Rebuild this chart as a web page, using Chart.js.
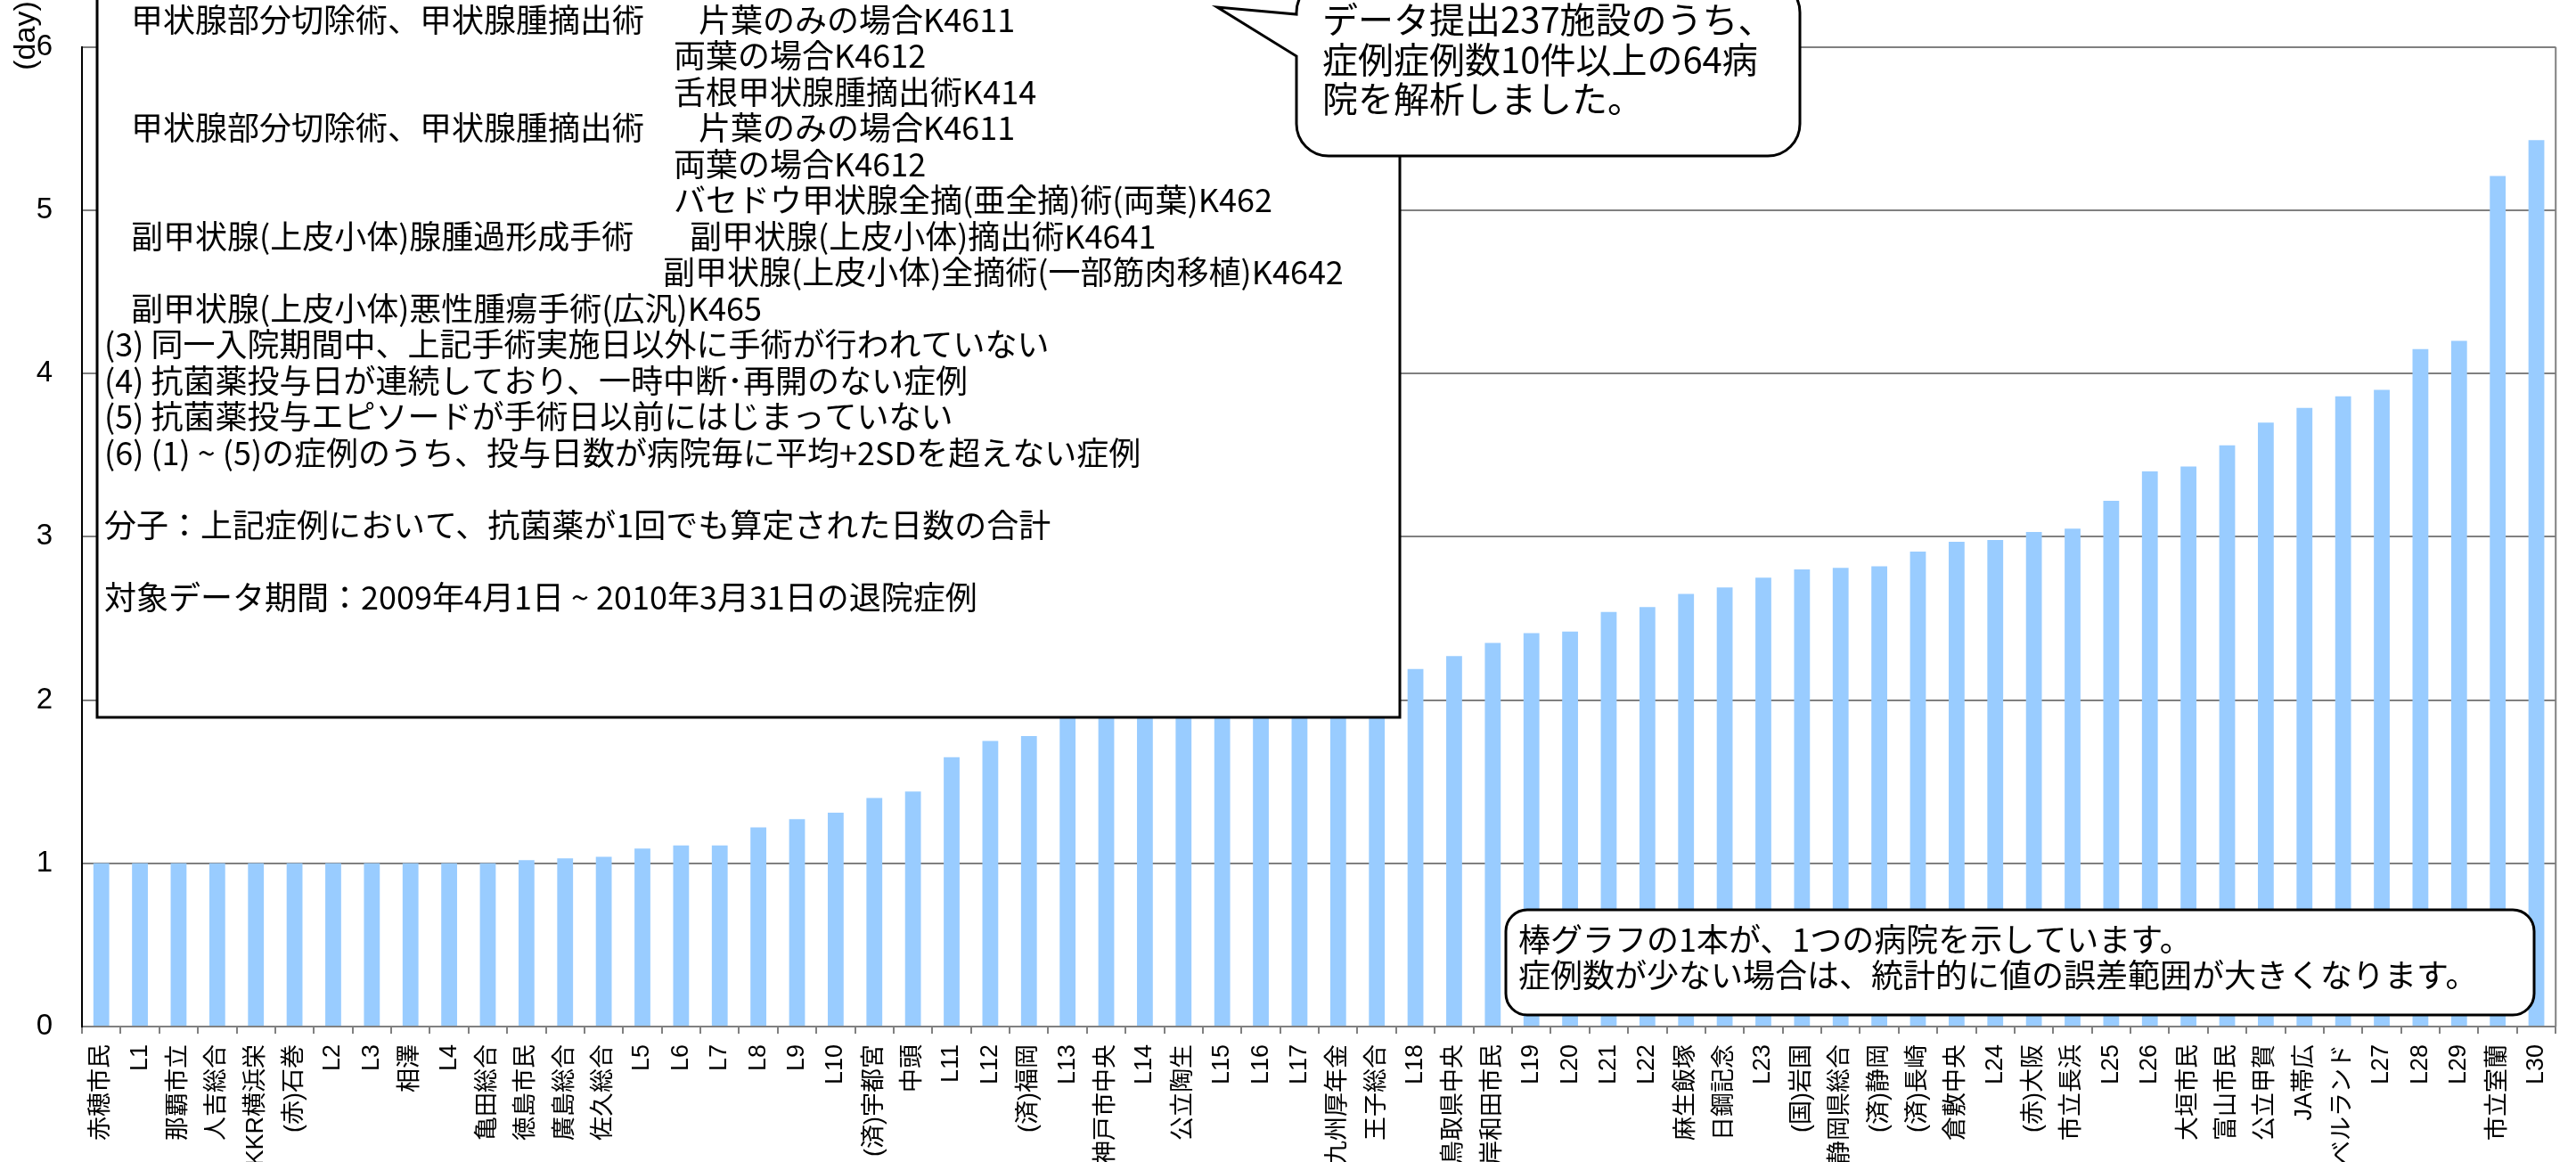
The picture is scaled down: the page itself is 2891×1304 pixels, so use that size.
<!DOCTYPE html>
<html>
<head>
<meta charset="utf-8">
<script src="https://cdn.jsdelivr.net/npm/chart.js@4.4.1/dist/chart.umd.min.js"></script>
<style>
  html, body { margin: 0; padding: 0; background: #fff; }
</style>
</head>
<body>
<canvas id="myChart" width="2891" height="1304"></canvas>
<script>
// hospitals, sorted by average antibiotic days
var hospitals = [
  '赤穂市民', 'L1', '那覇市立', '人吉総合', 'KKR横浜栄', '(赤)石巻', 'L2', 'L3', '相澤', 'L4',
  '亀田総合', '徳島市民', '廣島総合', '佐久総合', 'L5', 'L6', 'L7', 'L8', 'L9', 'L10',
  '(済)宇都宮', '中頭', 'L11', 'L12', '(済)福岡', 'L13', '神戸市中央', 'L14', '公立陶生', 'L15',
  'L16', 'L17', '九州厚年金', '王子総合', 'L18', '鳥取県中央', '岸和田市民', 'L19', 'L20', 'L21',
  'L22', '麻生飯塚', '日鋼記念', 'L23', '(国)岩国', '静岡県総合', '(済)静岡', '(済)長崎', '倉敷中央', 'L24',
  '(赤)大阪', '市立長浜', 'L25', 'L26', '大垣市民', '富山市民', '公立甲賀', 'JA帯広', 'ベルランド', 'L27',
  'L28', 'L29', '市立室蘭', 'L30'
];

var days = [
  1.00, 1.00, 1.00, 1.00, 1.00, 1.00, 1.00, 1.00, 1.00, 1.00,
  1.00, 1.02, 1.03, 1.04, 1.09, 1.11, 1.11, 1.22, 1.27, 1.31,
  1.40, 1.44, 1.65, 1.75, 1.78, 1.90, 1.93, 1.95, 1.98, 2.00,
  2.04, 2.08, 2.12, 2.16, 2.19, 2.27, 2.35, 2.41, 2.42, 2.54,
  2.57, 2.65, 2.69, 2.75, 2.80, 2.81, 2.82, 2.91, 2.97, 2.98,
  3.03, 3.05, 3.22, 3.40, 3.43, 3.56, 3.70, 3.79, 3.86, 3.90,
  4.15, 4.20, 5.21, 5.43
];

var dayMin = 0;
var dayMax = 6;
var dayStep = 1;
var dayTitle = '(day)';

// notes box text, [x, text] pieces per row
var noteRows = [
  [[147, '甲状腺部分切除術、甲状腺腫摘出術'], [784, '片葉のみの場合K4611']],
  [[756, '両葉の場合K4612']],
  [[756, '舌根甲状腺腫摘出術K414']],
  [[147, '甲状腺部分切除術、甲状腺腫摘出術'], [784, '片葉のみの場合K4611']],
  [[756, '両葉の場合K4612']],
  [[756, 'バセドウ甲状腺全摘(亜全摘)術(両葉)K462']],
  [[147, '副甲状腺(上皮小体)腺腫過形成手術'], [774, '副甲状腺(上皮小体)摘出術K4641']],
  [[744, '副甲状腺(上皮小体)全摘術(一部筋肉移植)K4642']],
  [[147, '副甲状腺(上皮小体)悪性腫瘍手術(広汎)K465']],
  [[117, '(3) 同一入院期間中、上記手術実施日以外に手術が行われていない']],
  [[117, '(4) 抗菌薬投与日が連続しており、一時中断･再開のない症例']],
  [[117, '(5) 抗菌薬投与エピソードが手術日以前にはじまっていない']],
  [[117, '(6) (1) ~ (5)の症例のうち、投与日数が病院毎に平均+2SDを超えない症例']],
  [],
  [[117, '分子：上記症例において、抗菌薬が1回でも算定された日数の合計']],
  [],
  [[117, '対象データ期間：2009年4月1日 ~ 2010年3月31日の退院症例']]
];

var bubbleLines = ['データ提出237施設のうち、', '症例症例数10件以上の64病', '院を解析しました。'];
var hintLines = ['棒グラフの1本が、1つの病院を示しています。', '症例数が少ない場合は、統計的に値の誤差範囲が大きくなります。'];

var jpFont = '"Noto Sans CJK JP"';

function roundBox(ctx, x0, y0, x1, y1, r) {
  ctx.beginPath();
  ctx.moveTo(x0 + r, y0);
  ctx.lineTo(x1 - r, y0);
  ctx.arcTo(x1, y0, x1, y0 + r, r);
  ctx.lineTo(x1, y1 - r);
  ctx.arcTo(x1, y1, x1 - r, y1, r);
  ctx.lineTo(x0 + r, y1);
  ctx.arcTo(x0, y1, x0, y1 - r, r);
  ctx.lineTo(x0, y0 + r);
  ctx.arcTo(x0, y0, x0 + r, y0, r);
  ctx.closePath();
}

var notesPlugin = {
  id: 'notes',
  afterDraw: function (chart) {
    var ctx = chart.ctx;
    var area = chart.chartArea;
    ctx.save();

    // right edge of the plot area
    ctx.strokeStyle = '#808080';
    ctx.lineWidth = 2;
    ctx.beginPath();
    ctx.moveTo(area.right, area.top);
    ctx.lineTo(area.right, area.bottom);
    ctx.stroke();

    ctx.textBaseline = 'middle';

    // y axis unit, rotated, at the top of the axis
    ctx.save();
    ctx.translate(30, 40);
    ctx.rotate(-Math.PI / 2);
    ctx.textAlign = 'center';
    ctx.fillStyle = '#000';
    ctx.font = '34px "Liberation Sans"';
    ctx.fillText(dayTitle, 0, 0);
    ctx.restore();

    ctx.textAlign = 'left';

    // big box with the case definitions
    ctx.fillStyle = '#fff';
    ctx.fillRect(109, -10, 1462, 815);
    ctx.strokeStyle = '#000';
    ctx.lineWidth = 3;
    ctx.strokeRect(109, -10, 1462, 815);
    ctx.fillStyle = '#000';
    ctx.font = '36px ' + jpFont;
    noteRows.forEach(function (row, i) {
      row.forEach(function (piece) {
        ctx.fillText(piece[1], piece[0], 22 + i * 40.5);
      });
    });

    // speech bubble
    var bx0 = 1455, by0 = -22, bx1 = 2020, by1 = 175, br = 36;
    ctx.beginPath();
    ctx.moveTo(bx0 + br, by0);
    ctx.lineTo(bx1 - br, by0);
    ctx.arcTo(bx1, by0, bx1, by0 + br, br);
    ctx.lineTo(bx1, by1 - br);
    ctx.arcTo(bx1, by1, bx1 - br, by1, br);
    ctx.lineTo(bx0 + br, by1);
    ctx.arcTo(bx0, by1, bx0, by1 - br, br);
    ctx.lineTo(bx0, 63);
    ctx.lineTo(1366, 8);
    ctx.lineTo(bx0, 16);
    ctx.lineTo(bx0, by0 + br);
    ctx.arcTo(bx0, by0, bx0 + br, by0, br);
    ctx.closePath();
    ctx.fillStyle = '#fff';
    ctx.fill();
    ctx.lineWidth = 3;
    ctx.strokeStyle = '#000';
    ctx.stroke();
    ctx.fillStyle = '#000';
    ctx.font = '40px ' + jpFont;
    bubbleLines.forEach(function (t, i) {
      ctx.fillText(t, 1484, 22 + i * 44.5);
    });

    // hint box, lower right
    roundBox(ctx, 1690, 1021, 2844, 1139, 24);
    ctx.fillStyle = '#fff';
    ctx.fill();
    ctx.lineWidth = 3;
    ctx.stroke();
    ctx.fillStyle = '#000';
    ctx.font = '36px ' + jpFont;
    hintLines.forEach(function (t, i) {
      ctx.fillText(t, 1704, 1054 + i * 40);
    });

    ctx.restore();
  }
};

var ctx = document.getElementById('myChart').getContext('2d');
new Chart(ctx, {
  type: 'bar',
  data: {
    labels: hospitals,
    datasets: [{
      data: days,
      backgroundColor: '#99CCFF',
      borderWidth: 0,
      barPercentage: 0.41,
      categoryPercentage: 1.0
    }]
  },
  options: {
    responsive: false,
    devicePixelRatio: 1,
    animation: false,
    layout: { padding: { top: 40, right: 7, left: 0, bottom: 0 } },
    plugins: {
      legend: { display: false },
      tooltip: { enabled: false }
    },
    scales: {
      x: {
        afterFit: function (scale) { scale.height = 152; },
        grid: {
          drawOnChartArea: false,
          drawTicks: true,
          tickLength: 8,
          color: '#808080',
          lineWidth: 2
        },
        border: { display: true, color: '#808080', width: 2 },
        ticks: {
          autoSkip: false,
          minRotation: 90,
          maxRotation: 90,
          padding: 12,
          color: '#000',
          font: { family: '"Liberation Sans", "Noto Sans CJK JP"', size: 27 }
        }
      },
      y: {
        min: dayMin,
        max: dayMax,
        afterFit: function (scale) { scale.width = 92; },
        grid: { color: '#808080', lineWidth: 2, drawTicks: false },
        border: { display: true, color: '#000', width: 2 },
        ticks: {
          stepSize: dayStep,
          padding: 33,
          color: '#000',
          font: { family: '"Liberation Sans"', size: 33 }
        }
      }
    }
  },
  plugins: [notesPlugin]
});
</script>
</body>
</html>
